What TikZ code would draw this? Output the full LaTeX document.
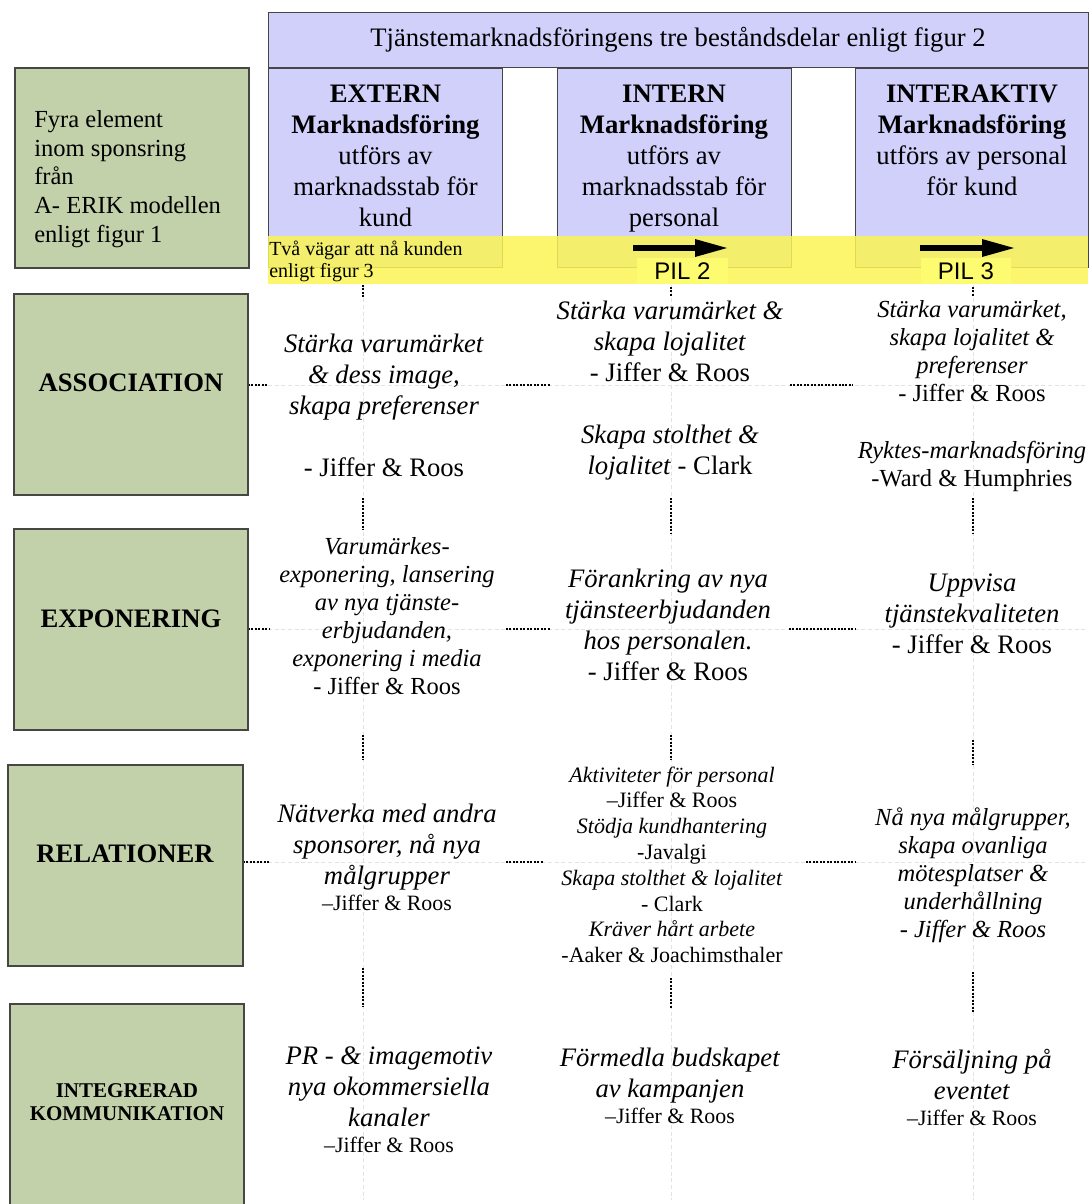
\documentclass[tikz,border=0pt]{standalone}
\usepackage{fontspec}
\setmainfont{Liberation Serif}
\newfontfamily\pilfont{Liberation Sans}
\usetikzlibrary{arrows.meta}

\definecolor{elemgreen}{RGB}{194,209,170}
\definecolor{partblue}{RGB}{208,208,250}
\definecolor{bandyellow}{RGB}{250,245,85}
\definecolor{tagyellow}{RGB}{253,251,112}
\definecolor{gridgray}{RGB}{226,226,226}
\definecolor{edgegray}{RGB}{70,70,70}

% text sizes
\newcommand\fbig{\fontsize{20}{23.25}\selectfont}
\newcommand\fmid{\fontsize{18.4}{21}\selectfont}
\newcommand\fsml{\fontsize{16.5}{19.35}\selectfont}
\newcommand\fjr{\fontsize{16.4}{19}\selectfont}
\newcommand\fgreen{\fontsize{18.4}{21.4}\selectfont}
\newcommand\fband{\fontsize{15}{16.5}\selectfont}
\newcommand\fkomm{\fontsize{15.75}{17.25}\selectfont}

\begin{document}
% multi-line cells are placed by the baseline of their last line
\begin{tikzpicture}[x=0.75pt,y=-0.75pt,
  elem/.style={draw=edgegray,line width=0.9pt,fill=elemgreen,inner sep=0pt,minimum width=175.5pt},
  part/.style={draw=edgegray,line width=0.75pt,fill=partblue,inner sep=0pt},
  cell/.style={align=center,inner sep=0pt,anchor=base},
  grid/.style={draw=gridgray,line width=0.75pt,dash pattern=on 3pt off 2pt},
  stub/.style={draw=black,line width=1.1pt,dash pattern=on 1.5pt off 1.1pt},
  pil/.style={line width=4.5pt,-{Triangle[length=25.5pt,width=12pt]}},
  tag/.style={fill=tagyellow,inner sep=0pt,minimum width=68pt,minimum height=19.5pt,
    font=\pilfont\fontsize{18}{18}\selectfont}]
\useasboundingbox (0,0) rectangle (1089,1204);
\clip (0,0) rectangle (1089,1204);

% faint guide grid
\foreach \x in {363,671,973} \draw[grid] (\x,285) -- (\x,1200);
\foreach \y in {385,629,862} \draw[grid] (248,\y) -- (1088,\y);

% dotted stubs of the grid
\foreach \x/\a/\b in {363/285/297,363/498/530,363/735/760,363/968/1007,
                      671/287/297,671/498/533,671/735/760,671/978/1008,
                      973/287/297,973/498/533,973/740/765,973/972/1012}
  \draw[stub] (\x,\a) -- (\x,\b);
\foreach \y/\a/\b in {385/248/267,385/506/551,385/790/853,
                      629/248/270,629/506/551,629/789/855,
                      862/243/270,862/506/544,862/806/855}
  \draw[stub] (\a,\y) -- (\b,\y);

% header and the three parts
\node[part,minimum width=615pt,minimum height=41.25pt,font=\fbig] (head) at (678,39.5)
  {Tjänstemarknadsföringens tre beståndsdelar enligt figur 2};
\node[part,minimum width=175.5pt,minimum height=149.25pt] (ext) at (385,167.5) {};
\node[part,minimum width=175.5pt,minimum height=149.25pt] (int) at (674,167.5) {};
\node[part,minimum width=174.75pt,minimum height=149.25pt] (inta) at (971.5,167.5) {};

\node[cell,font=\fbig] (extt) at (385.5,226)
  {\textbf{EXTERN}\\ \textbf{Marknadsföring}\\ utförs av\\ marknadsstab för\\ kund};
\node[cell,font=\fbig] (intt) at (674,226)
  {\textbf{INTERN}\\ \textbf{Marknadsföring}\\ utförs av\\ marknadsstab för\\ personal};
\node[cell,font=\fbig] (intat) at (972,195)
  {\textbf{INTERAKTIV}\\ \textbf{Marknadsföring}\\ utförs av personal\\ för kund};

% yellow band across the parts
\fill[bandyellow,opacity=0.85] (268,236) rectangle (1088,284);
\node[anchor=base west,align=left,inner sep=0pt,font=\fband] (vagar) at (269,277)
  {Två vägar att nå kunden\\ enligt figur 3};
\node[tag] (pil2) at (682.5,271) {PIL 2};
\node[tag] (pil3) at (966,271) {PIL 3};
\coordinate (p2s) at (633,248); \coordinate (p2e) at (729,248);
\coordinate (p3s) at (920,248); \coordinate (p3e) at (1016,248);
\draw[pil] (p2s) -- (p2e);
\draw[pil] (p3s) -- (p3e);

% the four elements
\node[elem,minimum height=150pt] (fyra) at (132,168) {};
\node[anchor=base west,align=left,inner sep=0pt,font=\fgreen] (fyrat) at (34,242)
  {Fyra element\\ inom sponsring\\ från\\ A- ERIK modellen\\ enligt figur 1};
\node[elem,minimum height=150.75pt] (assoc) at (131,394.5) {};
\node[cell,font=\fbig\bfseries] (assoct) at (131,391) {ASSOCIATION};
\node[elem,minimum height=150.75pt] (expo) at (131,629.5) {};
\node[cell,font=\fbig\bfseries] (expot) at (131,627) {EXPONERING};
\node[elem,minimum width=176.25pt,minimum height=150.75pt] (rel) at (125.5,865.5) {};
\node[cell,font=\fbig\bfseries] (relt) at (125,862) {RELATIONER};
\node[elem,minimum height=154.5pt] (integ) at (127,1107) {};
\node[cell,font=\fkomm\bfseries] (integt) at (127,1120) {INTEGRERAD\\ KOMMUNIKATION};

% association row
\node[cell,font=\fbig] (a1) at (384,476)
  {\textit{Stärka varumärket}\\ \textit{\& dess image,}\\ \textit{skapa preferenser}\\[23.25pt] - Jiffer \& Roos};
\node[cell,font=\fbig] (a2) at (670,474.5)
  {\textit{Stärka varumärket \&}\\ \textit{skapa lojalitet}\\ - Jiffer \& Roos\\[22.9pt]
   \textit{Skapa stolthet \&}\\ \textit{lojalitet} - Clark};
\node[cell,font=\fmid] (a3) at (972,486)
  {\textit{Stärka varumärket,}\\ \textit{skapa lojalitet \&}\\ \textit{preferenser}\\ - Jiffer \& Roos\\[21.75pt]
   \textit{Ryktes-marknadsföring}\\ -Ward \& Humphries};

% exponering row
\node[cell,font=\fmid] (e1) at (387,694)
  {\textit{Varumärkes-}\\ \textit{exponering, lansering}\\ \textit{av nya tjänste-}\\ \textit{erbjudanden,}\\
   \textit{exponering i media}\\ - Jiffer \& Roos};
\node[cell,font=\fbig] (e2) at (668,680)
  {\textit{Förankring av nya}\\ \textit{tjänsteerbjudanden}\\ \textit{hos personalen.}\\ - Jiffer \& Roos};
\node[cell,font=\fbig] (e3) at (972,653)
  {\textit{Uppvisa}\\ \textit{tjänstekvaliteten}\\ - Jiffer \& Roos};

% relationer row
\node[cell,font=\fbig] (r1) at (387,884)
  {\textit{Nätverka med andra}\\ \textit{sponsorer, nå nya}\\ \textit{målgrupper}};
\node[cell,font=\fjr] (r1s) at (387,910) {–Jiffer \& Roos};
\node[cell,font=\fsml] (r2) at (672,962.6)
  {\textit{Aktiviteter för personal}\\ –Jiffer \& Roos\\ \textit{Stödja kundhantering}\\ -Javalgi\\
   \textit{Skapa stolthet \& lojalitet}\\ - Clark\\ \textit{Kräver hårt arbete}\\ -Aaker \& Joachimsthaler};
\node[cell,font=\fmid\itshape] (r3) at (973,937)
  {Nå nya målgrupper,\\ skapa ovanliga\\ mötesplatser \&\\ underhållning\\ - Jiffer \& Roos};

% integrerad kommunikation row
\node[cell,font=\fbig] (k1) at (389,1126)
  {\textit{PR} - \textit{\& imagemotiv}\\ \textit{nya okommersiella}\\ \textit{kanaler}};
\node[cell,font=\fjr] (k1s) at (389,1152) {–Jiffer \& Roos};
\node[cell,font=\fbig] (k2) at (670,1097) {\textit{Förmedla budskapet}\\ \textit{av kampanjen}};
\node[cell,font=\fjr] (k2s) at (670,1123) {–Jiffer \& Roos};
\node[cell,font=\fbig] (k3) at (972,1099) {\textit{Försäljning på}\\ \textit{eventet}};
\node[cell,font=\fjr] (k3s) at (972,1125) {–Jiffer \& Roos};
\end{tikzpicture}
\end{document}
